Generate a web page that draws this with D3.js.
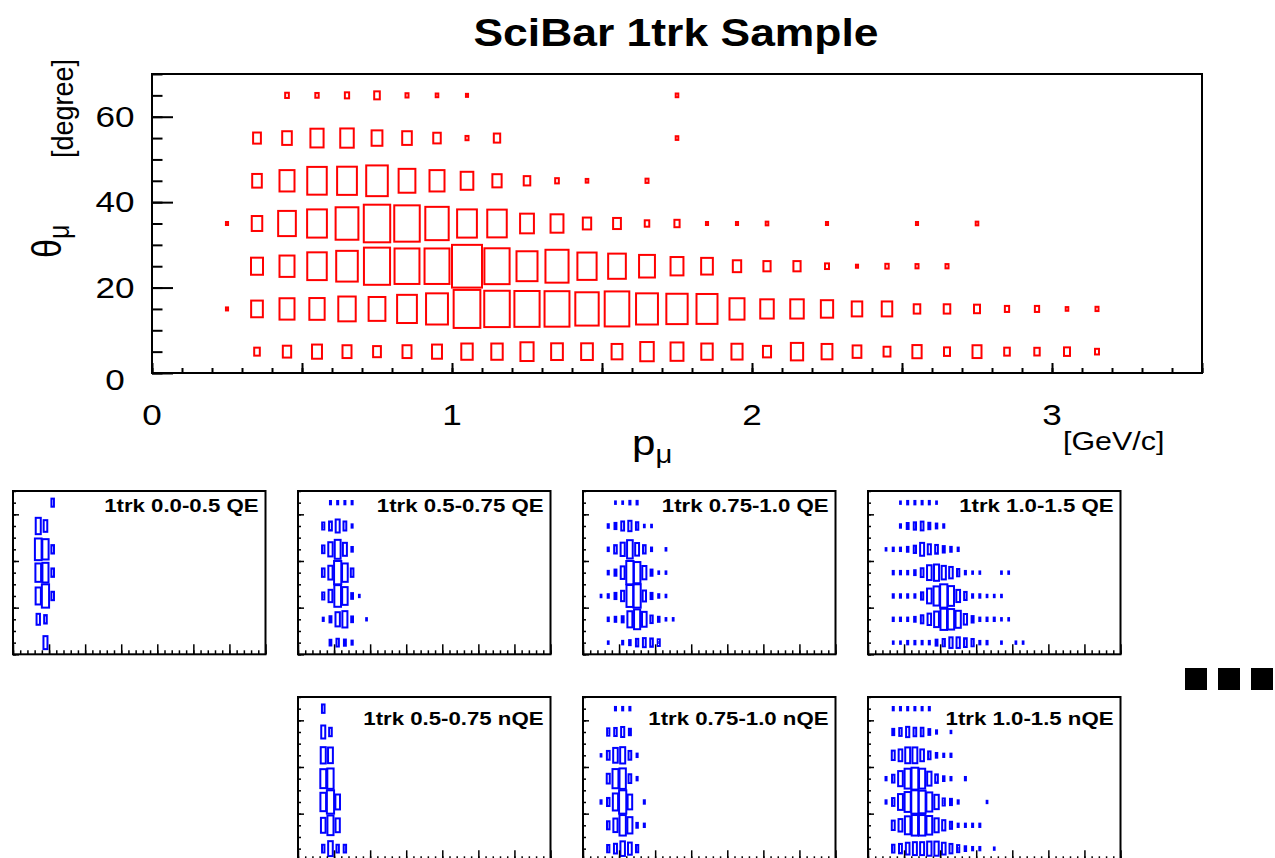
<!DOCTYPE html>
<html>
<head>
<meta charset="utf-8">
<script src="https://cdn.jsdelivr.net/npm/d3@7"></script>
<style>
  body { margin: 0; background: #fff; }
  svg { display: block; }
  text { font-family: "Liberation Sans", Arial, Helvetica, sans-serif; fill: #000; }
</style>
</head>
<body>
<svg id="fig" width="1275" height="858"></svg>
<script>
// ---- binning -------------------------------------------------------------
// theta bin centres (deg), listed top row first
const thetaCenters = [65, 55, 45, 35, 25, 15, 5];
// momentum bin centres (GeV/c) of the main histogram, first filled bin upward
const pCentersMain = [0.25, 0.35, 0.45, 0.55, 0.65, 0.75, 0.85, 0.95, 1.05, 1.15,
                      1.25, 1.35, 1.45, 1.55, 1.65, 1.75, 1.85, 1.95, 2.05, 2.15,
                      2.25, 2.35, 2.45, 2.55, 2.65, 2.75, 2.85, 2.95, 3.05, 3.15];
// momentum bin centres of the small histograms (index 0 = 0.05 GeV/c)
const pCentersSmall = [0.05, 0.15, 0.25, 0.35, 0.45, 0.55, 0.65, 0.75, 0.85, 0.95, 1.05,
                       1.15, 1.25, 1.35, 1.45, 1.55, 1.65, 1.75, 1.85, 1.95, 2.05, 2.15];

// ---- SciBar 1trk sample: entries per (p, theta) bin -----------------------
const mainRow65 = [0, 0, 6, 5, 8, 14, 4, 3, 2, 0, 0, 0, 0, 0, 0, 3];
const mainRow55 = [0, 27, 41, 77, 81, 52, 41, 25, 4, 18, 0, 0, 0, 0, 0, 3];
const mainRow45 = [0, 41, 100, 169, 174, 207, 125, 100, 71, 38, 19, 6, 3, 0, 4];
const mainRow35 = [2, 49, 139, 174, 231, 310, 289, 243, 174, 169, 85, 74, 31, 27, 9, 12,
                   2, 2, 3, 0, 2, 0, 0, 2, 0, 3];
const mainRow25 = [0, 64, 100, 169, 207, 303, 276, 276, 400, 282, 196, 237, 164, 139, 112, 74,
                   61, 31, 23, 23, 7, 2, 5, 4, 4];
const mainRow15 = [2, 61, 100, 104, 135, 125, 174, 213, 317, 289, 282, 276, 243, 269, 213, 202,
                   196, 100, 81, 81, 67, 49, 49, 19, 19, 16, 8, 8, 3, 4];
const mainRow05 = [0, 14, 31, 44, 36, 27, 36, 44, 58, 58, 77, 61, 61, 52, 81, 74,
                   58, 55, 29, 67, 52, 34, 21, 38, 16, 36, 14, 13, 16, 7];

// ---- sub-samples (rows: theta 65 ... 5, columns from p = 0.05) -----------
const qe_00_05 = [
  [0, 0, 0, 0, 0, 12],
  [0, 0, 0, 49, 25],
  [0, 0, 0, 86, 76, 13],
  [0, 0, 0, 62, 71, 13],
  [0, 0, 0, 53, 100, 13],
  [0, 0, 0, 22, 13],
  [0, 0, 0, 0, 31]
];
const qe_05_075 = [
  [0, 0, 0, 0, 2, 2, 2, 2],
  [0, 0, 0, 9, 15, 31, 15, 2],
  [0, 0, 0, 11, 37, 66, 31, 4],
  [0, 0, 0, 13, 35, 100, 62, 13],
  [0, 0, 0, 9, 28, 86, 58, 6, 1],
  [0, 0, 0, 2, 7, 37, 49, 6, 0, 1],
  [0, 0, 0, 0, 6, 11, 7, 3]
];
const qe_075_10 = [
  [0, 0, 0, 0, 1, 1, 2, 2],
  [0, 0, 0, 2, 6, 13, 17, 9, 1, 1],
  [0, 0, 0, 2, 11, 28, 53, 25, 11, 2, 0, 1],
  [0, 0, 0, 2, 6, 25, 86, 71, 28, 6, 1, 1],
  [0, 0, 1, 2, 6, 17, 76, 86, 19, 6, 2, 1],
  [0, 0, 0, 2, 4, 6, 41, 62, 35, 9, 4, 1, 1],
  [0, 0, 0, 1, 0, 2, 4, 9, 13, 11, 7]
];
const qe_10_15 = [
  [0, 0, 0, 0, 1, 2, 2, 2, 2, 1],
  [0, 0, 0, 0, 2, 6, 9, 13, 7, 4, 2],
  [0, 0, 1, 2, 2, 4, 9, 28, 17, 13, 7, 4, 2],
  [0, 0, 0, 2, 2, 2, 4, 13, 37, 45, 31, 22, 9, 2, 1, 1, 0, 0, 1, 1],
  [0, 0, 0, 2, 2, 2, 2, 9, 37, 62, 92, 66, 25, 11, 2, 2, 1, 1, 1],
  [0, 0, 0, 2, 2, 2, 4, 11, 22, 41, 76, 71, 49, 19, 7, 2, 2, 2, 1, 1],
  [0, 0, 0, 1, 1, 2, 2, 2, 2, 6, 9, 19, 19, 13, 9, 2, 2, 0, 1, 0, 1, 1]
];
const nqe_05_075 = [
  [0, 0, 0, 13],
  [0, 0, 0, 31, 13],
  [0, 0, 0, 49, 45],
  [0, 0, 0, 66, 76],
  [0, 0, 0, 62, 100, 41],
  [0, 0, 0, 41, 71, 35],
  [0, 0, 0, 11, 41, 11, 11]
];
const nqe_075_10 = [
  [0, 0, 0, 0, 2, 2, 2],
  [0, 0, 0, 9, 11, 17, 7],
  [0, 0, 1, 13, 37, 45, 13, 2],
  [0, 0, 0, 16, 62, 71, 13, 2],
  [0, 0, 2, 11, 49, 92, 37, 0, 2],
  [0, 0, 0, 11, 31, 71, 45, 4, 2],
  [0, 0, 0, 9, 16, 36, 25, 9]
];
const nqe_10_15 = [
  [0, 0, 0, 2, 2, 2, 2, 2, 2],
  [0, 0, 0, 7, 11, 19, 13, 13, 6, 2, 0, 1],
  [0, 0, 0, 16, 25, 45, 45, 25, 11, 4, 2, 2],
  [0, 0, 2, 11, 41, 71, 86, 71, 35, 13, 4, 2, 0, 2],
  [0, 0, 2, 11, 45, 71, 98, 92, 66, 37, 9, 7, 2, 0, 0, 0, 1],
  [0, 0, 0, 16, 28, 58, 76, 76, 62, 35, 19, 9, 2, 2, 2, 2],
  [0, 0, 0, 11, 16, 25, 30, 30, 36, 36, 25, 16, 9, 4, 2, 2, 0, 1]
];

const subLabels = ["1trk 0.0-0.5 QE", "1trk 0.5-0.75 QE", "1trk 0.75-1.0 QE", "1trk 1.0-1.5 QE",
                   "1trk 0.5-0.75 nQE", "1trk 0.75-1.0 nQE", "1trk 1.0-1.5 nQE"];

// ---- axis labels ----------------------------------------------------------
const xTickLabels = [0, 1, 2, 3];
const yTickLabels = [0, 20, 40, 60];
const titleText = "SciBar 1trk Sample";

// ---------------------------------------------------------------------------
const svg = d3.select("#fig");
const TX = 1.17;               // horizontal glyph aspect of the plot text

function label(g, str, x, y, size, anchor, weight) {
  return g.append("text")
    .attr("transform", `translate(${x},${y}) scale(${TX},1)`)
    .attr("text-anchor", anchor)
    .style("font-size", size + "px")
    .style("font-weight", weight || "normal")
    .text(str);
}

function toCells(rows, centers) {
  const out = [];
  rows.forEach((row, r) => row.forEach((v, i) => {
    if (v > 0) out.push({ p: centers[i], t: thetaCenters[r], v });
  }));
  return out;
}

function drawBoxes(g, cells, xs, ys, color, width) {
  const bw = xs(0.1) - xs(0), bh = ys(0) - ys(10);
  const s = d3.scaleSqrt().domain([0, d3.max(cells, d => d.v)]).range([0, 1]);
  g.selectAll("rect.box").data(cells).join("rect")
    .attr("class", "box")
    .attr("x", d => xs(d.p) - s(d.v) * bw / 2)
    .attr("y", d => ys(d.t) - s(d.v) * bh / 2)
    .attr("width", d => s(d.v) * bw)
    .attr("height", d => s(d.v) * bh)
    .attr("fill", "none")
    .attr("stroke", color)
    .attr("stroke-width", width);
}

function ticks(g, axis, sw) {
  g.call(axis);
  g.select(".domain").remove();
  g.selectAll(".tick line").attr("stroke", "#000").attr("stroke-width", sw);
  g.selectAll(".tick text").remove();
}

// ---- main histogram -------------------------------------------------------
const M = { left: 152, right: 1202, top: 74, bottom: 373 };
const x = d3.scaleLinear().domain([0, 3.5]).range([M.left, M.right]);
const y = d3.scaleLinear().domain([0, 70]).range([M.bottom, M.top]);

const mainCells = toCells([mainRow65, mainRow55, mainRow45, mainRow35, mainRow25, mainRow15, mainRow05],
                          pCentersMain);
drawBoxes(svg.append("g"), mainCells, x, y, "#ff0000", 2);

const minorP = d3.range(0, 35.5, 1).map(i => i / 10);
const majorP = d3.range(0, 7.5, 1).map(i => i / 2);
const minorT = d3.range(0, 71, 5);
const majorT = [0, 20, 40, 60];

ticks(svg.append("g").attr("transform", `translate(0,${M.bottom})`),
      d3.axisBottom(x).tickValues(minorP).tickSize(-5).tickFormat(""), 2);
ticks(svg.append("g").attr("transform", `translate(0,${M.bottom})`),
      d3.axisBottom(x).tickValues(majorP).tickSize(-10).tickFormat(""), 2);
ticks(svg.append("g").attr("transform", `translate(${M.left},0)`),
      d3.axisLeft(y).tickValues(minorT).tickSize(-10.5).tickFormat(""), 2);
ticks(svg.append("g").attr("transform", `translate(${M.left},0)`),
      d3.axisLeft(y).tickValues(majorT).tickSize(-21).tickFormat(""), 2);

svg.append("rect")
  .attr("x", M.left).attr("y", M.top)
  .attr("width", M.right - M.left).attr("height", M.bottom - M.top)
  .attr("fill", "none").attr("stroke", "#000").attr("stroke-width", 2);

const labels = svg.append("g");
xTickLabels.forEach(v => label(labels, String(v), x(v), 425, 30, "middle"));
yTickLabels.forEach(v => label(labels, String(v), 115, y(v) + (v === 0 ? 17 : 10), 30, "middle"));

label(labels, titleText, 676, 46, 38, "middle", "bold");

// x title  p_mu
const xt = label(labels, "p", 632, 455, 36, "start");
xt.append("tspan").attr("dy", 8).style("font-size", "25px").text("μ");
label(labels, "[GeV/c]", 1063, 450, 26, "start");

// y title  theta_mu  and unit
const yt = labels.append("text")
  .attr("transform", `translate(61,258) rotate(-90) scale(1,${TX})`)
  .style("font-size", "34px").text("θ");
yt.append("tspan").attr("dy", 7).style("font-size", "25px").text("μ");
labels.append("text")
  .attr("transform", `translate(73,158) rotate(-90) scale(1,1.06)`)
  .style("font-size", "27px").text("[degree]");

// ---- small histograms -----------------------------------------------------
const PW = 252.5, PH = 163.3;
const panels = [
  { x0: 13,  top: 491, rows: qe_00_05,   lab: subLabels[0], off: 21 },
  { x0: 298, top: 491, rows: qe_05_075,  lab: subLabels[1], off: 21 },
  { x0: 583, top: 491, rows: qe_075_10,  lab: subLabels[2], off: 21 },
  { x0: 868, top: 491, rows: qe_10_15,   lab: subLabels[3], off: 21 },
  { x0: 298, top: 697, rows: nqe_05_075, lab: subLabels[4], off: 28 },
  { x0: 583, top: 697, rows: nqe_075_10, lab: subLabels[5], off: 28 },
  { x0: 868, top: 697, rows: nqe_10_15,  lab: subLabels[6], off: 28 }
];

panels.forEach(P => {
  const g = svg.append("g");
  const xs = d3.scaleLinear().domain([0, 3.5]).range([P.x0, P.x0 + PW]);
  const ys = d3.scaleLinear().domain([0, 70]).range([P.top + PH, P.top]);
  drawBoxes(g, toCells(P.rows, pCentersSmall), xs, ys, "#0000ff", 2);

  ticks(g.append("g").attr("transform", `translate(0,${P.top + PH})`),
        d3.axisBottom(xs).tickValues(minorP).tickSize(-4).tickFormat(""), 1.5);
  ticks(g.append("g").attr("transform", `translate(0,${P.top + PH})`),
        d3.axisBottom(xs).tickValues(majorP).tickSize(-10).tickFormat(""), 1.5);
  ticks(g.append("g").attr("transform", `translate(${P.x0},0)`),
        d3.axisLeft(ys).tickValues(minorT).tickSize(-3).tickFormat(""), 1.5);
  ticks(g.append("g").attr("transform", `translate(${P.x0},0)`),
        d3.axisLeft(ys).tickValues(majorT).tickSize(-6).tickFormat(""), 1.5);

  g.append("rect")
    .attr("x", P.x0).attr("y", P.top).attr("width", PW).attr("height", PH)
    .attr("fill", "none").attr("stroke", "#000").attr("stroke-width", 2);

  label(g, P.lab, P.x0 + PW - 7, P.top + P.off, 19, "end", "bold");
});

// continuation marks to the right of the QE row
svg.append("g").selectAll("rect").data([0, 1, 2]).join("rect")
  .attr("x", d => 1185 + d * 33).attr("y", 668)
  .attr("width", 22).attr("height", 22).attr("fill", "#000");
</script>
</body>
</html>
